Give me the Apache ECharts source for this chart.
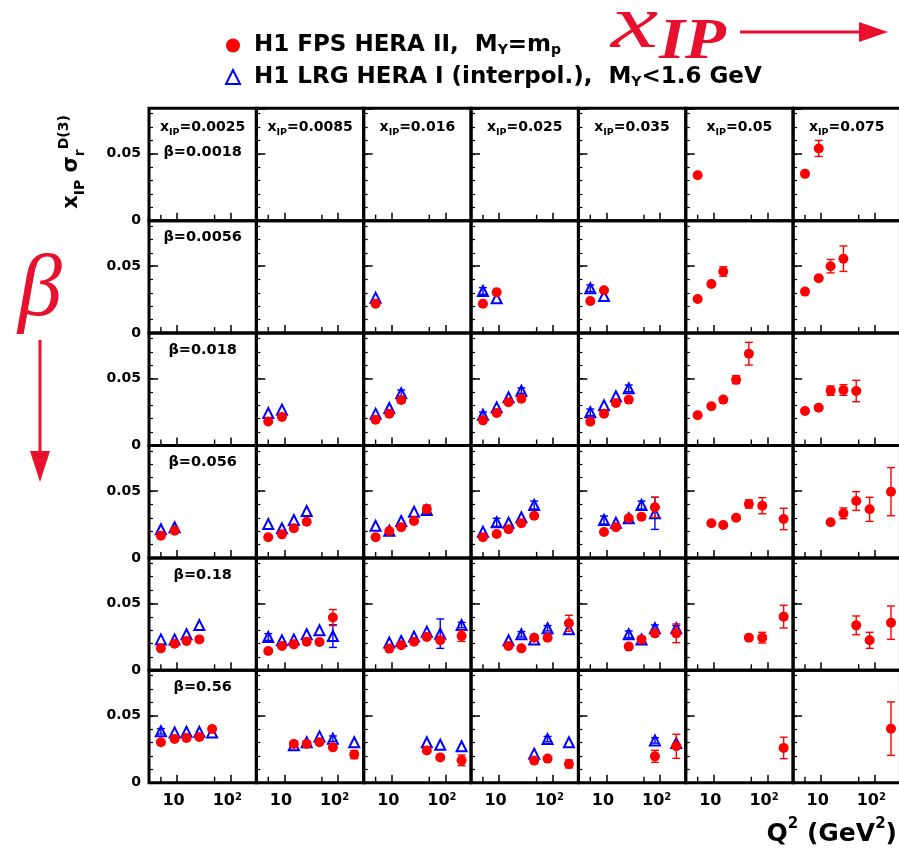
<!DOCTYPE html>
<html>
<head>
<meta charset="utf-8">
<script src="https://cdn.jsdelivr.net/npm/echarts@6/dist/echarts.min.js"></script>
<style>
  html, body { margin: 0; padding: 0; background: #fff; }
  #chart { width: 899px; height: 850px; }
</style>
</head>
<body>
<div id="chart"></div>
<script>
// Diffractive reduced cross section x_IP * sigma_r^D(3) in bins of x_IP (columns) and beta (rows)
const X_POM = [0.0025, 0.0085, 0.016, 0.025, 0.035, 0.05, 0.075];
const BETA = [0.0018, 0.0056, 0.018, 0.056, 0.18, 0.56];
const Q2_MINOR_TICKS = [5, 50];
const Q2_LABELS = [10, 100];

const FPS_NAME = 'H1 FPS HERA II';
const LRG_NAME = 'H1 LRG HERA I';

// H1 FPS HERA II, M_Y = m_p : [x_IP, Q^2 (GeV^2), x_IP sigma_r^D(3), error]
const fpsBeta0018 = [
  [0.05, 5, 0.034, 0],
  [0.075, 5, 0.035, 0], [0.075, 9, 0.054, 0.006]
];
const fpsBeta0056 = [
  [0.016, 5, 0.022, 0],
  [0.025, 5, 0.022, 0], [0.025, 9, 0.0305, 0],
  [0.035, 5, 0.024, 0], [0.035, 9, 0.032, 0],
  [0.05, 5, 0.0255, 0], [0.05, 9, 0.0367, 0], [0.05, 15, 0.046, 0.0035],
  [0.075, 5, 0.031, 0], [0.075, 9, 0.041, 0], [0.075, 15, 0.050, 0.005], [0.075, 26, 0.0556, 0.0095]
];
const fpsBeta018 = [
  [0.0085, 5, 0.018, 0], [0.0085, 9, 0.0213, 0],
  [0.016, 5, 0.0193, 0], [0.016, 9, 0.0238, 0], [0.016, 15, 0.034, 0.002],
  [0.025, 5, 0.0188, 0], [0.025, 9, 0.0243, 0], [0.025, 15, 0.0323, 0], [0.025, 26, 0.035, 0],
  [0.035, 5, 0.0178, 0], [0.035, 9, 0.0238, 0], [0.035, 15, 0.0318, 0], [0.035, 26, 0.0343, 0],
  [0.05, 5, 0.0226, 0], [0.05, 9, 0.0293, 0], [0.05, 15, 0.0343, 0], [0.05, 26, 0.0492, 0.003], [0.05, 45, 0.0686, 0.0085],
  [0.075, 5, 0.0258, 0], [0.075, 9, 0.0283, 0], [0.075, 15, 0.041, 0.0035], [0.075, 26, 0.0415, 0.004], [0.075, 45, 0.0407, 0.008]
];
const fpsBeta056 = [
  [0.0025, 5, 0.0166, 0], [0.0025, 9, 0.0203, 0],
  [0.0085, 5, 0.0154, 0], [0.0085, 9, 0.0176, 0], [0.0085, 15, 0.0221, 0], [0.0085, 26, 0.027, 0],
  [0.016, 5, 0.0154, 0], [0.016, 9, 0.0201, 0], [0.016, 15, 0.0229, 0], [0.016, 26, 0.0276, 0], [0.016, 45, 0.0365, 0.003],
  [0.025, 5, 0.0154, 0], [0.025, 9, 0.0179, 0], [0.025, 15, 0.0214, 0], [0.025, 26, 0.0259, 0], [0.025, 45, 0.0315, 0],
  [0.035, 9, 0.0194, 0], [0.035, 15, 0.0229, 0], [0.035, 26, 0.0296, 0], [0.035, 45, 0.0308, 0], [0.035, 80, 0.0378, 0.0075],
  [0.05, 9, 0.0259, 0], [0.05, 15, 0.0246, 0], [0.05, 26, 0.030, 0], [0.05, 45, 0.0403, 0.003], [0.05, 80, 0.039, 0.006], [0.05, 200, 0.0291, 0.008],
  [0.075, 15, 0.0266, 0], [0.075, 26, 0.0333, 0.004], [0.075, 45, 0.0425, 0.007], [0.075, 80, 0.0363, 0.009], [0.075, 200, 0.0495, 0.018]
];
const fpsBeta18 = [
  [0.0025, 5, 0.0164, 0], [0.0025, 9, 0.0199, 0], [0.0025, 15, 0.0219, 0], [0.0025, 26, 0.0231, 0],
  [0.0085, 5, 0.0144, 0], [0.0085, 9, 0.0181, 0], [0.0085, 15, 0.0194, 0], [0.0085, 26, 0.0214, 0], [0.0085, 45, 0.0212, 0], [0.0085, 80, 0.0394, 0.006],
  [0.016, 9, 0.0162, 0], [0.016, 15, 0.0187, 0], [0.016, 26, 0.0214, 0], [0.016, 45, 0.0249, 0], [0.016, 80, 0.0224, 0], [0.016, 200, 0.0256, 0.004],
  [0.025, 15, 0.0181, 0], [0.025, 26, 0.0164, 0], [0.025, 45, 0.0244, 0], [0.025, 80, 0.0244, 0], [0.025, 200, 0.0351, 0.006],
  [0.035, 26, 0.0177, 0], [0.035, 45, 0.0231, 0], [0.035, 80, 0.0276, 0.002], [0.035, 200, 0.0276, 0.007],
  [0.05, 45, 0.0244, 0], [0.05, 80, 0.0244, 0.004], [0.05, 200, 0.0401, 0.0085],
  [0.075, 45, 0.0336, 0.007], [0.075, 80, 0.0224, 0.006], [0.075, 200, 0.0356, 0.0125]
];
const fpsBeta56 = [
  [0.0025, 5, 0.0302, 0], [0.0025, 9, 0.0326, 0], [0.0025, 15, 0.0334, 0], [0.0025, 26, 0.0341, 0], [0.0025, 45, 0.0401, 0],
  [0.0085, 15, 0.029, 0], [0.0085, 26, 0.029, 0], [0.0085, 45, 0.0302, 0], [0.0085, 80, 0.0264, 0], [0.0085, 200, 0.021, 0.003],
  [0.016, 45, 0.024, 0], [0.016, 80, 0.0189, 0], [0.016, 200, 0.0167, 0.004],
  [0.025, 45, 0.0165, 0], [0.025, 80, 0.018, 0], [0.025, 200, 0.014, 0.003],
  [0.035, 80, 0.0197, 0.0045], [0.035, 200, 0.0272, 0.009],
  [0.05, 200, 0.026, 0.008],
  [0.075, 200, 0.0404, 0.020]
];

// H1 LRG HERA I interpolated, M_Y < 1.6 GeV : [x_IP, Q^2 (GeV^2), x_IP sigma_r^D(3), error]
const lrgBeta0018 = [];
const lrgBeta0056 = [
  [0.016, 5, 0.0265, 0],
  [0.025, 5, 0.0315, 0.0025], [0.025, 9, 0.026, 0],
  [0.035, 5, 0.0335, 0.0025], [0.035, 9, 0.0277, 0]
];
const lrgBeta018 = [
  [0.0085, 5, 0.0243, 0], [0.0085, 9, 0.0268, 0],
  [0.016, 5, 0.0238, 0], [0.016, 9, 0.028, 0], [0.016, 15, 0.039, 0.0025],
  [0.025, 5, 0.023, 0.002], [0.025, 9, 0.0285, 0], [0.025, 15, 0.036, 0], [0.025, 26, 0.041, 0.002],
  [0.035, 5, 0.0248, 0.0025], [0.035, 9, 0.030, 0], [0.035, 15, 0.0368, 0], [0.035, 26, 0.0427, 0.0025]
];
const lrgBeta056 = [
  [0.0025, 5, 0.0214, 0], [0.0025, 9, 0.0229, 0],
  [0.0085, 5, 0.0253, 0], [0.0085, 9, 0.0221, 0], [0.0085, 15, 0.0283, 0], [0.0085, 26, 0.035, 0],
  [0.016, 5, 0.024, 0], [0.016, 9, 0.0203, 0], [0.016, 15, 0.0276, 0], [0.016, 26, 0.0345, 0], [0.016, 45, 0.0358, 0.003],
  [0.025, 5, 0.0196, 0], [0.025, 9, 0.0266, 0.003], [0.025, 15, 0.0263, 0], [0.025, 26, 0.0303, 0], [0.025, 45, 0.0395, 0.003],
  [0.035, 9, 0.0283, 0.003], [0.035, 15, 0.0263, 0], [0.035, 26, 0.0296, 0], [0.035, 45, 0.0395, 0.003], [0.035, 80, 0.0333, 0.012]
];
const lrgBeta18 = [
  [0.0025, 5, 0.0231, 0], [0.0025, 9, 0.0231, 0], [0.0025, 15, 0.0269, 0], [0.0025, 26, 0.0338, 0],
  [0.0085, 5, 0.0249, 0.0025], [0.0085, 9, 0.0224, 0], [0.0085, 15, 0.0231, 0], [0.0085, 26, 0.0269, 0], [0.0085, 45, 0.0299, 0], [0.0085, 80, 0.0256, 0.0085],
  [0.016, 9, 0.0207, 0], [0.016, 15, 0.0219, 0], [0.016, 26, 0.0252, 0], [0.016, 45, 0.0289, 0], [0.016, 80, 0.0274, 0.011], [0.016, 200, 0.0338, 0.002],
  [0.025, 15, 0.0224, 0], [0.025, 26, 0.0269, 0.002], [0.025, 45, 0.0231, 0], [0.025, 80, 0.0314, 0.002], [0.025, 200, 0.0306, 0],
  [0.035, 26, 0.0269, 0.0025], [0.035, 45, 0.0231, 0], [0.035, 80, 0.0314, 0.0025], [0.035, 200, 0.0314, 0.002]
];
const lrgBeta56 = [
  [0.0025, 5, 0.0384, 0.002], [0.0025, 9, 0.0376, 0], [0.0025, 15, 0.038, 0], [0.0025, 26, 0.038, 0], [0.0025, 45, 0.0376, 0],
  [0.0085, 15, 0.0279, 0], [0.0085, 26, 0.0302, 0], [0.0085, 45, 0.0346, 0], [0.0085, 80, 0.0329, 0.002], [0.0085, 200, 0.0302, 0],
  [0.016, 45, 0.0302, 0], [0.016, 80, 0.0284, 0], [0.016, 200, 0.0272, 0],
  [0.025, 45, 0.0217, 0], [0.025, 80, 0.0326, 0.002], [0.025, 200, 0.0302, 0],
  [0.035, 80, 0.0316, 0.002], [0.035, 200, 0.0296, 0]
];

const FPS_ROWS = [fpsBeta0018, fpsBeta0056, fpsBeta018, fpsBeta056, fpsBeta18, fpsBeta56];
const LRG_ROWS = [lrgBeta0018, lrgBeta0056, lrgBeta018, lrgBeta056, lrgBeta18, lrgBeta56];

// ---- layout of the 7 x 6 panel matrix ----
const FONT = 'DejaVu Sans';
const PANEL_LEFT = 149;
const PANEL_TOP = 108.3;
const PANEL_W = 107.35;
const PANEL_H = 112.4;
const RED = '#ff0000';
const BLUE = '#0000ff';
const ACCENT = '#e8112d';
const CLEAR = 'rgba(0,0,0,0)';

function errorBarRenderer(color) {
  return function (params, api) {
    const q2 = api.value(0), v = api.value(1), e = api.value(2);
    if (!(e > 0)) return null;
    const hi = api.coord([q2, v + e]);
    const lo = api.coord([q2, v - e]);
    const st = { stroke: color, lineWidth: 1.4 };
    const w = 4;
    return {
      type: 'group',
      children: [
        { type: 'line', shape: { x1: hi[0], y1: hi[1], x2: lo[0], y2: lo[1] }, style: st },
        { type: 'line', shape: { x1: hi[0] - w, y1: hi[1], x2: hi[0] + w, y2: hi[1] }, style: st },
        { type: 'line', shape: { x1: lo[0] - w, y1: lo[1], x2: lo[0] + w, y2: lo[1] }, style: st }
      ]
    };
  };
}

// short upward ticks on the Q^2 axis between the decade ticks
function minorTickRenderer(params, api) {
  const p = api.coord([api.value(0), 0]);
  return { type: 'line', shape: { x1: p[0], y1: p[1], x2: p[0], y2: p[1] - 6 },
           style: { stroke: '#000', lineWidth: 1.4 } };
}

const grids = [], xAxes = [], yAxes = [], series = [];

for (let r = 0; r < BETA.length; r++) {
  for (let c = 0; c < X_POM.length; c++) {
    const g = grids.length;
    grids.push({
      left: PANEL_LEFT + c * PANEL_W,
      top: PANEL_TOP + r * PANEL_H,
      width: PANEL_W,
      height: PANEL_H,
      show: true,
      borderColor: '#000',
      borderWidth: 3,
      backgroundColor: CLEAR,
      containLabel: false,
      outerBoundsMode: 'none'
    });
    const lastRow = r === BETA.length - 1;
    xAxes.push({
      type: 'log', logBase: 10, min: 3, max: 300, gridIndex: g, position: 'bottom',
      axisLine: { show: true, onZero: false, lineStyle: { color: CLEAR } },
      splitLine: { show: false },
      minorTick: { show: false },
      axisTick: { show: true, inside: true, length: 8, lineStyle: { color: '#000', width: 1.5 } },
      axisLabel: {
        show: lastRow, margin: 10, showMinLabel: false, showMaxLabel: false,
        padding: [0, 7, 0, 0],
        fontFamily: FONT, fontWeight: 'bold', fontSize: 16, color: '#000',
        formatter: v => {
          const q = Math.round(v);
          if (q === Q2_LABELS[0]) return '10';
          if (q === Q2_LABELS[1]) return '10{s|2}';
          return '';
        },
        rich: { s: { fontFamily: FONT, fontWeight: 'bold', fontSize: 10, color: '#000', verticalAlign: 'top' } }
      }
    });
    // value axis carrying the data, with the fine 0.01 ticks
    yAxes.push({
      type: 'value', min: 0, max: 0.084, interval: 0.01, gridIndex: g, position: 'left',
      axisLine: { show: true, onZero: false, lineStyle: { color: CLEAR } },
      splitLine: { show: false },
      axisTick: { show: true, inside: true, length: 4, lineStyle: { color: '#000', width: 1.2 } },
      axisLabel: { show: false }
    });
    const yData = yAxes.length - 1;
    // companion axis for the long ticks and the 0 / 0.05 labels
    yAxes.push({
      type: 'value', min: 0, max: 0.084, interval: 0.05, gridIndex: g, position: 'left',
      axisLine: { show: true, onZero: false, lineStyle: { color: CLEAR } },
      splitLine: { show: false },
      axisTick: { show: true, inside: true, length: 9, lineStyle: { color: '#000', width: 1.5 } },
      axisLabel: {
        show: c === 0, margin: 8, showMaxLabel: false,
        fontFamily: FONT, fontWeight: 'bold', fontSize: 14, color: '#000',
        formatter: v => (v === 0 ? '0' : (Math.abs(v - 0.05) < 1e-9 ? '0.05' : ''))
      }
    });

    series.push({
      type: 'custom', name: 'q2-ticks', xAxisIndex: g, yAxisIndex: yData,
      renderItem: minorTickRenderer, data: Q2_MINOR_TICKS.map(q => [q, 0]),
      encode: { x: 0, y: 1 }, z: 1, silent: true
    });

    const lrg = LRG_ROWS[r].filter(d => d[0] === X_POM[c]).map(d => [d[1], d[2], d[3]]);
    const fps = FPS_ROWS[r].filter(d => d[0] === X_POM[c]).map(d => [d[1], d[2], d[3]]);
    if (lrg.length) {
      series.push({
        type: 'custom', name: 'lrg-err', xAxisIndex: g, yAxisIndex: yData,
        renderItem: errorBarRenderer(BLUE), data: lrg, encode: { x: 0, y: 1 }, z: 2, silent: true
      });
      series.push({
        type: 'scatter', name: LRG_NAME, xAxisIndex: g, yAxisIndex: yData,
        symbol: 'triangle', symbolSize: 10, data: lrg.map(d => [d[0], d[1]]),
        itemStyle: { color: 'rgba(255,255,255,0)', borderColor: BLUE, borderWidth: 2, opacity: 1 },
        z: 3, silent: true
      });
    }
    if (fps.length) {
      series.push({
        type: 'custom', name: 'fps-err', xAxisIndex: g, yAxisIndex: yData,
        renderItem: errorBarRenderer(RED), data: fps, encode: { x: 0, y: 1 }, z: 4, silent: true
      });
      series.push({
        type: 'scatter', name: FPS_NAME, xAxisIndex: g, yAxisIndex: yData,
        symbol: 'circle', symbolSize: 10, data: fps.map(d => [d[0], d[1]]),
        itemStyle: { color: RED, opacity: 1 },
        z: 5, silent: true
      });
    }
  }
}

// ---- text and decorations around the panel matrix ----
const graphic = [];
const boldText = (text, x, y, size, extra) => ({
  type: 'text', silent: true,
  style: Object.assign({
    text, x, y, fill: '#000', fontFamily: FONT, fontWeight: 'bold', fontSize: size,
    align: 'center', verticalAlign: 'middle'
  }, extra || {})
});

X_POM.forEach((xp, c) => {
  graphic.push(boldText('x{sub|IP}=' + xp, PANEL_LEFT + (c + 0.5) * PANEL_W, 127, 14, {
    lineHeight: 22,
    rich: { sub: { fontFamily: FONT, fontWeight: 'bold', fontSize: 9.5, verticalAlign: 'bottom' } }
  }));
});
BETA.forEach((b, r) => {
  const y = r === 0 ? 152 : PANEL_TOP + r * PANEL_H + 17;
  graphic.push(boldText('\u03b2=' + b, PANEL_LEFT + 0.5 * PANEL_W, y, 14.5));
});

// vertical axis title
graphic.push({
  type: 'text', silent: true, x: 72, y: 162, rotation: Math.PI / 2,
  style: {
    text: 'x{sub|IP} \u03c3{sub|r}{sup|D(3)}', x: 0, y: 0,
    fontFamily: FONT, fontWeight: 'bold', fontSize: 21, fill: '#000',
    align: 'center', verticalAlign: 'middle', lineHeight: 30,
    rich: {
      sub: { fontFamily: FONT, fontWeight: 'bold', fontSize: 14, verticalAlign: 'bottom' },
      sup: { fontFamily: FONT, fontWeight: 'bold', fontSize: 14, verticalAlign: 'top' }
    }
  }
});

// horizontal axis title
graphic.push(boldText('Q{sup|2} (GeV{sup|2})', 897, 834, 25, {
  align: 'right', lineHeight: 34,
  rich: { sup: { fontFamily: FONT, fontWeight: 'bold', fontSize: 15, verticalAlign: 'top' } }
}));

// x_IP direction marker
graphic.push({
  type: 'text', silent: true, x: 611, y: 27, scaleX: 1.4,
  style: {
    text: 'x', x: 0, y: 0, fill: ACCENT,
    fontFamily: 'Liberation Serif', fontStyle: 'italic', fontSize: 76,
    align: 'left', verticalAlign: 'middle'
  }
});
graphic.push({
  type: 'text', silent: true, x: 659, y: 43, scaleX: 1.15,
  style: {
    text: 'IP', x: 0, y: 0, fill: ACCENT,
    fontFamily: 'Liberation Serif', fontStyle: 'italic', fontWeight: 'bold', fontSize: 58,
    align: 'left', verticalAlign: 'middle'
  }
});
graphic.push({ type: 'line', silent: true, shape: { x1: 740, y1: 32, x2: 864, y2: 32 }, style: { stroke: ACCENT, lineWidth: 3 } });
graphic.push({ type: 'polygon', silent: true, shape: { points: [[859, 22], [888, 32], [859, 42]] }, style: { fill: ACCENT } });

// beta direction marker
graphic.push({
  type: 'text', silent: true,
  style: {
    text: '\u03b2', x: 40, y: 292, fill: ACCENT,
    fontFamily: 'Liberation Serif', fontStyle: 'italic', fontSize: 88,
    align: 'center', verticalAlign: 'middle'
  }
});
graphic.push({ type: 'line', silent: true, shape: { x1: 40, y1: 340, x2: 40, y2: 456 }, style: { stroke: ACCENT, lineWidth: 3 } });
graphic.push({ type: 'polygon', silent: true, shape: { points: [[30, 451], [40, 482], [50, 451]] }, style: { fill: ACCENT } });

const legend = {
  orient: 'vertical', left: 225, top: 34, padding: 0,
  itemWidth: 14, itemHeight: 14, itemGap: 8,
  selectedMode: false,
  data: [FPS_NAME, LRG_NAME],
  textStyle: {
    fontFamily: FONT, fontWeight: 'bold', fontSize: 23, color: '#000',
    rich: {
      t0: { fontFamily: FONT, fontWeight: 'bold', fontSize: 23, color: '#000', lineHeight: 24, padding: [0, 0, 0, 9] },
      t: { fontFamily: FONT, fontWeight: 'bold', fontSize: 23, color: '#000', lineHeight: 24 },
      sub: { fontFamily: FONT, fontWeight: 'bold', fontSize: 14, color: '#000', verticalAlign: 'bottom', lineHeight: 20 }
    }
  },
  formatter: name => name === FPS_NAME
    ? '{t0|H1 FPS HERA II,  M}{sub|Y}{t|=m}{sub|p}'
    : '{t0|H1 LRG HERA I (interpol.),  M}{sub|Y}{t|<1.6 GeV}'
};

const chart = echarts.init(document.getElementById('chart'), null, { renderer: 'canvas', width: 899, height: 850 });
chart.setOption({
  animation: false,
  backgroundColor: '#fff',
  legend,
  grid: grids,
  xAxis: xAxes,
  yAxis: yAxes,
  series,
  graphic
});
</script>
</body>
</html>
